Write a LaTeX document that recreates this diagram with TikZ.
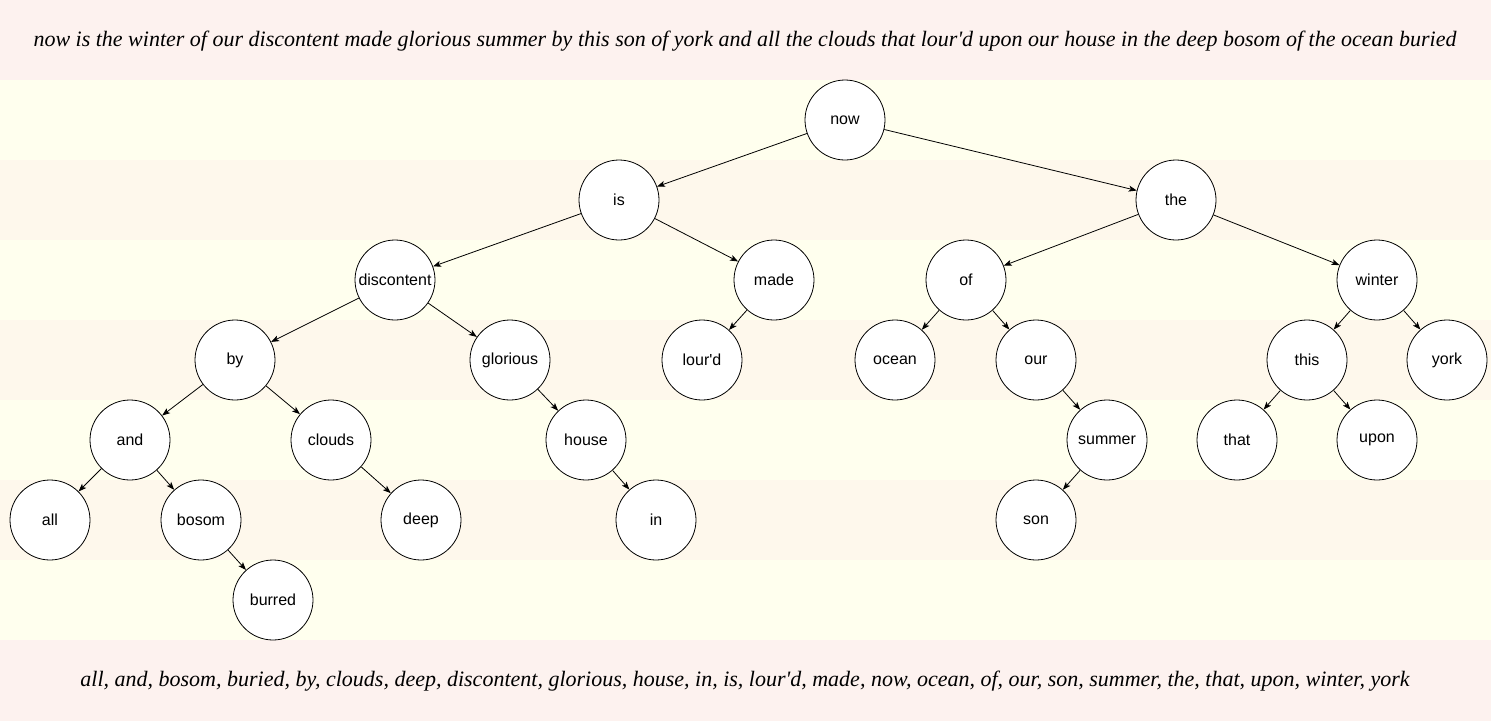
\documentclass[tikz,border=0pt]{standalone}
\usepackage{fontspec}
\setmainfont{Liberation Serif}[Ligatures=TeXOff]
\setsansfont{Liberation Sans}[Ligatures=TeXOff]
\usetikzlibrary{arrows.meta}

\definecolor{bandpink}{HTML}{FDF2EF}
\definecolor{bandyellow}{HTML}{FFFFEE}
\definecolor{bandorange}{HTML}{FEF8EC}

\begin{document}
\begin{tikzpicture}[x=1pt,y=-1pt,
        ->,>={Stealth[length=8pt,width=6pt,inset=2pt]},line width=0.8pt,
        main node/.style={circle,draw,fill=white,minimum size=80pt,inner sep=0pt,
                          font=\sffamily\fontsize{16}{18}\selectfont},
        verse/.style={font=\rmfamily\itshape\fontsize{22}{26}\selectfont}]

        \useasboundingbox (0,0) rectangle (1491,721);

        % Background bands
        \fill[bandpink] (0,0) rectangle (1491,80);
        \foreach \row/\col in {1/bandyellow,2/bandorange,3/bandyellow,4/bandorange,
                               5/bandyellow,6/bandorange,7/bandyellow}
            \fill[\col] (0,\row*80) rectangle (1491,\row*80+80);
        \fill[bandpink] (0,640) rectangle (1491,721);

        % Texts
        \node[verse] (sentence) at (745,41) {now is the winter of our discontent made glorious summer by this son of york and all the clouds that lour'd upon our house in the deep bosom of the ocean buried};
        \node[verse] (sorted) at (745,681) {all, and, bosom, buried, by, clouds, deep, discontent, glorious, house, in, is, lour'd, made, now, ocean, of, our, son, summer, the, that, upon, winter, york};

        % Define vertices
        \node[main node] (now) at (845,120) {now};
        \node[main node] (is) at (619,200) {is};
        \node[main node] (the) at (1176,200) {the};
        \node[main node] (discontent) at (395,280) {discontent};
        \node[main node] (made) at (774,280) {made};
        \node[main node] (of) at (966,280) {of};
        \node[main node] (winter) at (1377,280) {winter};
        \node[main node] (by) at (235,360) {by};
        \node[main node] (glorious) at (510,360) {glorious};
        \node[main node] (lourd) at (702,360) {lour'd};
        \node[main node] (ocean) at (895,360) {ocean};
        \node[main node] (our) at (1036,360) {our};
        \node[main node] (this) at (1307,360) {this};
        \node[main node] (york) at (1447,360) {york};
        \node[main node] (and) at (130,440) {and};
        \node[main node] (clouds) at (331,440) {clouds};
        \node[main node] (house) at (586,440) {house};
        \node[main node] (summer) at (1107,440) {summer};
        \node[main node] (that) at (1237,440) {that};
        \node[main node] (upon) at (1377,440) {upon};
        \node[main node] (all) at (50,520) {all};
        \node[main node] (bosom) at (201,520) {bosom};
        \node[main node] (deep) at (421,520) {deep};
        \node[main node] (in) at (656,520) {in};
        \node[main node] (son) at (1036,520) {son};
        \node[main node] (burred) at (273,600) {burred};

        % Draw edges
        \path
            (now) edge (is)
            (now) edge (the)
            (is) edge (discontent)
            (is) edge (made)
            (the) edge (of)
            (the) edge (winter)
            (discontent) edge (by)
            (discontent) edge (glorious)
            (made) edge (lourd)
            (of) edge (ocean)
            (of) edge (our)
            (winter) edge (this)
            (winter) edge (york)
            (by) edge (and)
            (by) edge (clouds)
            (glorious) edge (house)
            (our) edge (summer)
            (this) edge (that)
            (this) edge (upon)
            (and) edge (all)
            (and) edge (bosom)
            (clouds) edge (deep)
            (house) edge (in)
            (summer) edge (son)
            (bosom) edge (burred);

\end{tikzpicture}
\end{document}
